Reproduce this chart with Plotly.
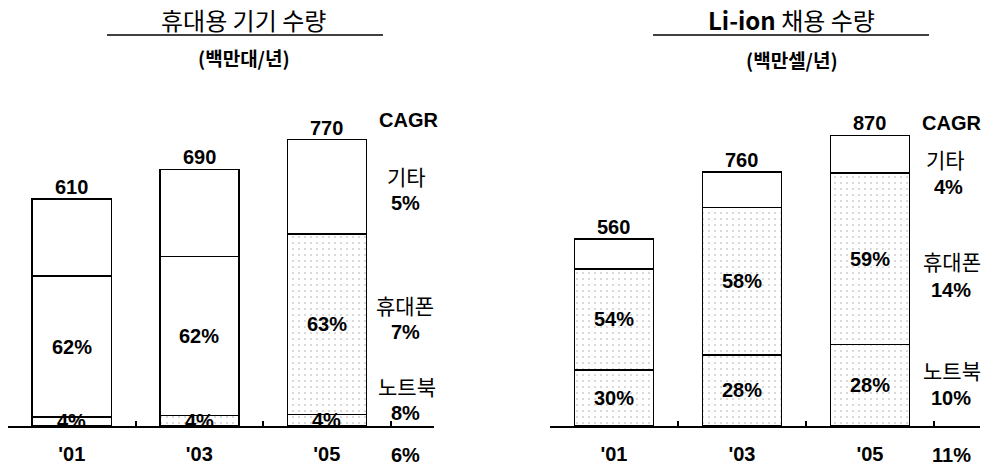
import plotly.graph_objects as go

# ---- data ----
years = ["'01", "'03", "'05"]

# portable devices (million units / year)
device_total = [610, 690, 770]
device_notebook_pct = [4, 4, 4]
device_phone_pct = [62, 62, 63]
device_cagr = {"기타": "5%", "휴대폰": "7%", "노트북": "8%", "total": "6%"}

# Li-ion cells adopted (million cells / year)
cell_total = [560, 760, 870]
cell_notebook_pct = [30, 28, 28]
cell_phone_pct = [54, 58, 59]
cell_cagr = {"기타": "4%", "휴대폰": "14%", "노트북": "10%", "total": "11%"}

W, H = 984, 470
NUM_FONT = "Liberation Sans, Arial, sans-serif"
KR_FONT = "Noto Sans CJK KR, sans-serif"
NUM_SIZE = 20
KR_SIZE = 21


def segments(total, nb_pct, ph_pct):
    nb = [t * p / 100 for t, p in zip(total, nb_pct)]
    ph = [t * p / 100 for t, p in zip(total, ph_pct)]
    other = [t - a - b for t, a, b in zip(total, nb, ph)]
    return nb, ph, other


def px(x):
    return x / W


def py(y):
    return (H - y) / H


fig = go.Figure()
annotations = []
shapes = []


def add_panel(total, nb_pct, ph_pct, xa, ya, nb_dots, ph_dots):
    nb, ph, other = segments(total, nb_pct, ph_pct)
    line = dict(color="black", width=1.5)
    for vals, dots in ((nb, nb_dots), (ph, ph_dots), (other, [False] * 3)):
        fig.add_trace(go.Bar(
            x=years, y=vals, xaxis=xa, yaxis=ya, width=0.62,
            marker=dict(
                color="white", line=line,
                pattern=dict(
                    shape=["." if d else "" for d in dots],
                    fgcolor="#9a9a9a", bgcolor="white", size=6, solidity=0.09,
                ),
            ),
            showlegend=False, hoverinfo="skip",
        ))
    for i, yr_lab in enumerate(years):
        # totals above bars
        annotations.append(dict(
            x=yr_lab, y=total[i], xref=xa, yref=ya, text=f"<b>{total[i]}</b>",
            showarrow=False, yanchor="bottom", yshift=-1,
            font=dict(family=NUM_FONT, size=NUM_SIZE, color="black"),
        ))
        # share labels inside segments
        annotations.append(dict(
            x=yr_lab, y=nb[i] / 2, xref=xa, yref=ya, text=f"<b>{nb_pct[i]}%</b>",
            showarrow=False, font=dict(family=NUM_FONT, size=NUM_SIZE, color="black"),
        ))
        annotations.append(dict(
            x=yr_lab, y=nb[i] + ph[i] / 2, xref=xa, yref=ya, text=f"<b>{ph_pct[i]}%</b>",
            showarrow=False, font=dict(family=NUM_FONT, size=NUM_SIZE, color="black"),
        ))


add_panel(device_total, device_notebook_pct, device_phone_pct, "x", "y",
          [False, True, True], [False, False, True])
add_panel(cell_total, cell_notebook_pct, cell_phone_pct, "x2", "y2",
          [True, True, True], [True, True, True])


def text(x, y, s, size, family=KR_FONT, bold=False):
    annotations.append(dict(
        x=px(x), y=py(y), xref="paper", yref="paper",
        text=f"<b>{s}</b>" if bold else s, showarrow=False,
        xanchor="center", yanchor="middle",
        font=dict(family=family, size=size, color="black"),
    ))


# panel titles with rule underneath
text(243, 19, "휴대용 기기 수량", 24)
text(244, 58, "(백만대/년)", 19, bold=True)
shapes.append(dict(type="line", xref="paper", yref="paper",
                   x0=px(107), x1=px(383), y0=py(35), y1=py(35),
                   line=dict(color="black", width=1.5)))
text(791, 19, "<b>Li-ion</b> 채용 수량", 24)
text(792, 60, "(백만셀/년)", 19, bold=True)
shapes.append(dict(type="line", xref="paper", yref="paper",
                   x0=px(653), x1=px(929), y0=py(35), y1=py(35),
                   line=dict(color="black", width=1.5)))

# CAGR columns
text(408, 120, "CAGR", NUM_SIZE, NUM_FONT, bold=True)
text(406, 176, "기타", KR_SIZE)
text(405, 203, device_cagr["기타"], NUM_SIZE, NUM_FONT, bold=True)
text(405, 305, "휴대폰", KR_SIZE)
text(405, 332, device_cagr["휴대폰"], NUM_SIZE, NUM_FONT, bold=True)
text(407, 386, "노트북", KR_SIZE)
text(405, 413, device_cagr["노트북"], NUM_SIZE, NUM_FONT, bold=True)
text(405, 455, device_cagr["total"], NUM_SIZE, NUM_FONT, bold=True)

text(951, 123, "CAGR", NUM_SIZE, NUM_FONT, bold=True)
text(945, 159, "기타", KR_SIZE)
text(948, 187, cell_cagr["기타"], NUM_SIZE, NUM_FONT, bold=True)
text(952, 261, "휴대폰", KR_SIZE)
text(951, 290, cell_cagr["휴대폰"], NUM_SIZE, NUM_FONT, bold=True)
text(952, 370, "노트북", KR_SIZE)
text(951, 398, cell_cagr["노트북"], NUM_SIZE, NUM_FONT, bold=True)
text(951, 455, cell_cagr["total"], NUM_SIZE, NUM_FONT, bold=True)

base_y = 426
ydom = [py(base_y), 1]
xaxis_common = dict(
    type="category", showline=True, linecolor="black", linewidth=1.5,
    ticks="inside", ticklen=5, tickwidth=1.5, tickcolor="black",
    tickson="boundaries", showgrid=False, zeroline=False,
    tickfont=dict(family=NUM_FONT, size=NUM_SIZE, color="black", weight="bold"),
    ticklabelstandoff=9, fixedrange=True,
)
fig.update_layout(
    width=W, height=H, margin=dict(l=0, r=0, t=0, b=0),
    paper_bgcolor="white", plot_bgcolor="white",
    barmode="stack",
    xaxis=dict(domain=[px(8), px(434)], range=[-0.5, 2.84], anchor="y", **xaxis_common),
    yaxis=dict(domain=ydom, range=[0, base_y / 0.372], visible=False, fixedrange=True),
    xaxis2=dict(domain=[px(550), px(980)], range=[-0.5, 2.86], anchor="y2", **xaxis_common),
    yaxis2=dict(domain=ydom, range=[0, base_y / 0.334], visible=False, fixedrange=True),
    annotations=annotations, shapes=shapes,
)
fig.write_html("out.html")
